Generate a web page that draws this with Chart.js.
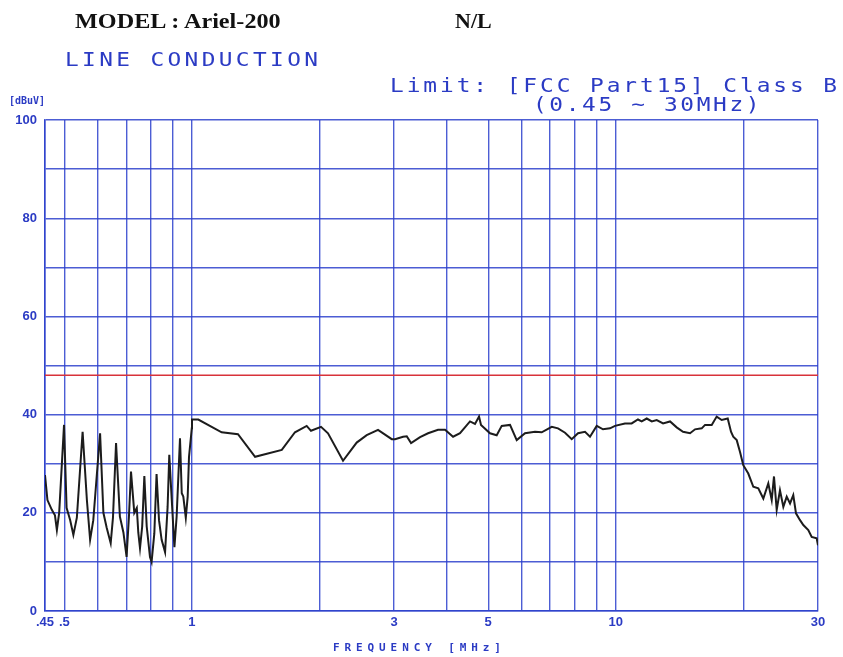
<!DOCTYPE html>
<html lang="en">
<head>
  <meta charset="UTF-8" />
  <title>Ariel-200 Line Conduction</title>
  <style>
    body {
      margin: 0;
      background-color: #fff;
    }
    .wrap {
      position: relative;
      width: 843px;
      height: 657px;
    }
    .wrap canvas {
      position: absolute;
      left: 0;
      top: 0;
    }
    .txt {
      position: absolute;
      white-space: nowrap;
      line-height: 1;
    }
    .model {
      font-family: 'Liberation Serif', serif;
      font-weight: bold;
      font-size: 22px;
      color: #111;
      top: 10px;
      transform: scaleX(1.1);
      transform-origin: left center;
    }
    .plot {
      font-family: 'DejaVu Sans Mono', monospace;
      font-size: 19px;
      color: #2b3bc4;
      transform: scaleX(1.2);
      transform-origin: left center;
    }
    .small {
      font-family: 'DejaVu Sans Mono', monospace;
      font-weight: bold;
      font-size: 11px;
      color: #2b3bc4;
    }
  </style>
</head>
<body>
  <div class="wrap">
    <canvas id="chart" width="843" height="657"></canvas>
    <div class="txt model" style="left:75px">MODEL : Ariel-200</div>
    <div class="txt model" style="left:455px; transform:scaleX(1)">N/L</div>
    <div class="txt plot" style="left:65px; top:50px; letter-spacing:2.8px">LINE CONDUCTION</div>
    <div class="txt plot" style="left:390px; top:76px; letter-spacing:2.45px">Limit: [FCC Part15] Class B</div>
    <div class="txt plot" style="left:533px; top:95px; letter-spacing:2.2px">(0.45 ~ 30MHz)</div>
    <div class="txt small" style="left:9px; top:96px; font-size:10px">[dBuV]</div>
    <div class="txt small" style="left:333px; top:642px; letter-spacing:4.9px">FREQUENCY [MHz]</div>
  </div>

  <script src="https://cdn.jsdelivr.net/npm/chart.js"></script>
  <script>
    // measured trace, frequency in MHz / level in dBuV
    const scanFreq = [
      0.450, 0.456, 0.467, 0.475, 0.480, 0.486, 0.499, 0.506, 0.516, 0.525,
      0.535, 0.552, 0.565, 0.575, 0.585, 0.607, 0.618, 0.629, 0.643, 0.651,
      0.662, 0.676, 0.689, 0.701, 0.710, 0.718, 0.731, 0.741, 0.747, 0.754,
      0.763, 0.772, 0.782, 0.796, 0.803, 0.815, 0.825, 0.836, 0.848, 0.864,
      0.876, 0.884, 0.896, 0.909, 0.920, 0.937, 0.946, 0.954, 0.967, 0.977,
      0.984, 0.999, 1.000,
      1.007, 1.035, 1.175, 1.284, 1.409, 1.629, 1.750, 1.865, 1.909, 2.016,
      2.094, 2.272, 2.447, 2.584, 2.748, 2.961, 3.014, 3.148, 3.212, 3.288,
      3.453, 3.606, 3.807, 3.955, 4.131, 4.290, 4.529, 4.654, 4.757, 4.808,
      5.049, 5.236, 5.381, 5.629, 5.838, 6.107, 6.448, 6.687, 7.061, 7.306,
      7.590, 7.871, 8.145, 8.460, 8.693, 9.015, 9.329, 9.691, 9.958, 10.51,
      10.90, 11.28, 11.51, 11.83, 12.16, 12.49, 12.93, 13.43, 13.92, 14.41,
      14.97, 15.38, 15.95, 16.24, 16.84, 17.30, 17.78, 18.37, 18.70, 18.93,
      19.29, 19.64, 19.99, 20.54, 21.11, 21.69, 22.29, 22.90, 23.33, 23.62,
      23.97, 24.40, 24.85, 25.31, 25.77, 26.23, 26.62, 27.21, 27.70, 28.46,
      28.99, 29.79, 30.00
    ];
    const scanLevel = [
      27.7, 22.6, 20.6, 19.5, 16.5, 20.0, 37.9, 21.0, 18.5, 15.5,
      19.0, 36.5, 22.6, 14.5, 18.5, 36.2, 20.0, 17.0, 13.8, 19.0,
      34.2, 19.2, 16.0, 11.0, 19.2, 28.4, 20.0, 21.0, 16.0, 12.8,
      17.2, 27.5, 17.2, 11.0, 10.0, 15.8, 27.9, 18.5, 14.5, 12.0,
      21.2, 31.8, 22.6, 13.0, 19.2, 35.2, 24.0, 23.3, 19.0, 23.3,
      31.4, 37.2, 39.0,
      39.0, 39.0, 36.4, 36.0, 31.4, 32.8, 36.4, 37.7, 36.7, 37.5,
      36.2, 30.6, 34.3, 35.8, 36.9, 35.0, 35.0, 35.5, 35.6, 34.2,
      35.4, 36.2, 36.9, 36.9, 35.5, 36.2, 38.6, 38.1, 39.6, 37.9,
      36.2, 35.8, 37.7, 37.9, 34.8, 36.2, 36.5, 36.4, 37.5, 37.2,
      36.3, 35.0, 36.2, 36.5, 35.5, 37.7, 37.0, 37.2, 37.7, 38.2,
      38.2, 39.0, 38.6, 39.2, 38.6, 38.9, 38.2, 38.6, 37.4, 36.5,
      36.2, 37.0, 37.2, 37.9, 37.9, 39.6, 38.9, 39.2, 36.5, 35.5,
      34.8, 32.4, 29.7, 28.0, 25.3, 25.0, 22.9, 26.0, 22.6, 27.4,
      20.6, 24.6, 21.2, 23.3, 21.9, 23.6, 19.9, 18.5, 17.5, 16.5,
      15.1, 14.8, 13.4
    ];

    const limitFreq = [0.45, 30];
    const limitLevel = [48, 48];

    const xGridValues = [0.45, 0.5, 0.6, 0.7, 0.8, 0.9, 1, 2, 3, 4, 5, 6, 7, 8, 9, 10, 20, 30];
    const xTickValues = [0.45, 0.5, 1, 3, 5, 10, 30];
    const xTickLabels = ['.45', '.5', '1', '3', '5', '10', '30'];
    const yTickValues = [0, 20, 40, 60, 80, 100];

    const blue = '#2b3bc4';
    const gridBlue = 'rgba(45, 65, 205, 0.85)';

    function toPoints(xs, ys) {
      return xs.map((x, i) => ({ x: x, y: ys[i] }));
    }

    const ctx = document.getElementById('chart').getContext('2d');
    new Chart(ctx, {
      type: 'line',
      data: {
        datasets: [
          {
            label: 'Limit',
            data: toPoints(limitFreq, limitLevel),
            borderColor: '#d8323a',
            borderWidth: 1.6,
            pointRadius: 0,
            tension: 0
          },
          {
            label: 'N/L',
            data: toPoints(scanFreq, scanLevel),
            borderColor: '#1c1c1c',
            borderWidth: 2,
            pointRadius: 0,
            tension: 0
          }
        ]
      },
      options: {
        responsive: false,
        devicePixelRatio: 1,
        animation: false,
        layout: {
          padding: { top: 120, right: 25, left: 0, bottom: 0 }
        },
        plugins: {
          legend: { display: false },
          tooltip: { enabled: false }
        },
        scales: {
          x: {
            type: 'logarithmic',
            min: 0.45,
            max: 30,
            afterBuildTicks: scale => {
              scale.ticks = xGridValues.map(v => ({ value: v }));
            },
            afterFit: scale => { scale.height = 46; },
            ticks: {
              autoSkip: false,
              maxRotation: 0,
              padding: 4,
              color: blue,
              font: { family: 'Liberation Sans', weight: 'bold', size: 13 },
              callback: value => {
                const i = xTickValues.findIndex(v => Math.abs(v - value) < 1e-6);
                return i >= 0 ? xTickLabels[i] : '';
              }
            },
            grid: { color: gridBlue, lineWidth: 1.4, drawTicks: false },
            border: { color: gridBlue, width: 1.6 }
          },
          y: {
            min: 0,
            max: 100,
            afterFit: scale => { scale.width = 45; },
            ticks: {
              stepSize: 10,
              autoSkip: false,
              padding: 8,
              color: blue,
              font: { family: 'Liberation Sans', weight: 'bold', size: 13 },
              callback: value => yTickValues.includes(value) ? String(value) : ''
            },
            grid: { color: gridBlue, lineWidth: 1.4, drawTicks: false },
            border: { color: gridBlue, width: 1.6 }
          }
        }
      }
    });
  </script>
</body>
</html>
